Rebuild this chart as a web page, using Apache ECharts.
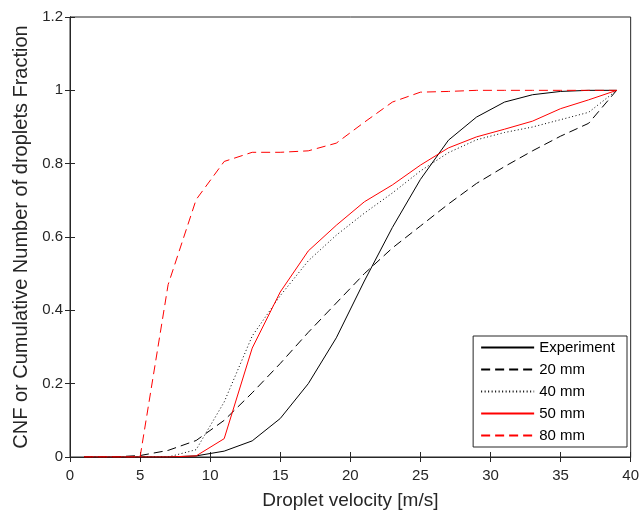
<!DOCTYPE html>
<html><head><meta charset="utf-8">
<script src="https://cdn.jsdelivr.net/npm/echarts@6/dist/echarts.min.js"></script>
<style>html,body{margin:0;padding:0;background:#fff}#c{width:642px;height:515px}</style>
</head><body><div id="c"></div>
<script>
const velocities = [1,3,5,7,9,11,13,15,17,19,21,23,25,27,29,31,33,35,37,39];
const experiment = [0,0,0,0,0.003,0.016,0.044,0.105,0.2,0.325,0.48,0.626,0.757,0.864,0.927,0.968,0.988,0.997,1,1];
const mm20 = [0,0,0.004,0.018,0.045,0.1,0.175,0.255,0.34,0.42,0.5,0.57,0.63,0.69,0.746,0.792,0.835,0.875,0.91,1];
const mm40 = [0,0,0,0,0.02,0.15,0.33,0.44,0.535,0.605,0.665,0.72,0.78,0.83,0.865,0.885,0.9,0.92,0.94,1];
const mm50 = [0,0,0,0,0.003,0.05,0.297,0.45,0.562,0.632,0.696,0.742,0.796,0.843,0.873,0.894,0.916,0.95,0.974,1];
const mm80 = [0,0,0,0.47,0.702,0.806,0.831,0.831,0.835,0.856,0.913,0.968,0.995,0.997,1,1,1,1,1,1];
const xTicks = [0,5,10,15,20,25,30,35,40];
const yTicks = [0,0.2,0.4,0.6,0.8,1,1.2];

const FONT = 'Liberation Sans, Arial, Helvetica, sans-serif';
const pairs = a => velocities.map((v,i)=>[v,a[i]]);
const mk = (name, arr, color, type) => ({
  name, type:'line', data: pairs(arr), symbol:'none', smooth:false,
  lineStyle:{color, width:1, type}, itemStyle:{color}, animation:false
});
const axisCol = '#262626';
const chart = echarts.init(document.getElementById('c'), null, {renderer:'canvas'});
chart.setOption({
  backgroundColor:'#fff',
  animation:false,
  grid:{left:70, right:9, top:17, bottom:53, show:true, borderColor:axisCol, borderWidth:1, containLabel:false},
  xAxis:[{
    type:'value', min:0, max:40, interval:5, position:'bottom',
    name:'Droplet velocity [m/s]', nameLocation:'middle', nameGap:34,
    nameTextStyle:{fontSize:19, color:axisCol, fontFamily:FONT},
    axisLine:{show:true, lineStyle:{color:axisCol}},
    axisTick:{show:true, inside:true, length:5, lineStyle:{color:axisCol}},
    axisLabel:{fontSize:15, color:axisCol, margin:11, fontFamily:FONT,
      formatter: v => xTicks.includes(v) ? String(v) : ''},
    splitLine:{show:false}
  },{
    type:'value', min:0, max:40, interval:5, position:'top',
    axisLine:{show:true, lineStyle:{color:axisCol}},
    axisTick:{show:true, inside:true, length:5, lineStyle:{color:axisCol}},
    axisLabel:{show:false}, splitLine:{show:false}
  }],
  yAxis:[{
    type:'value', min:0, max:1.2, interval:0.2, position:'left',
    name:'CNF or Cumulative Number of droplets Fraction', nameLocation:'middle', nameGap:39, nameRotate:90,
    nameTextStyle:{fontSize:20, color:axisCol, fontFamily:FONT},
    axisLine:{show:true, lineStyle:{color:axisCol}},
    axisTick:{show:true, inside:true, length:5, lineStyle:{color:axisCol}},
    axisLabel:{fontSize:15, color:axisCol, margin:7, fontFamily:FONT,
      formatter: v => { const t = yTicks.find(k=>Math.abs(k-v)<1e-9); return t===undefined?'':String(t); }},
    splitLine:{show:false}
  },{
    type:'value', min:0, max:1.2, interval:0.2, position:'right',
    axisLine:{show:true, lineStyle:{color:axisCol}},
    axisTick:{show:true, inside:true, length:5, lineStyle:{color:axisCol}},
    axisLabel:{show:false}, splitLine:{show:false}
  }],
  legend:{
    orient:'vertical', right:15, top:336,
    backgroundColor:'#fff', borderColor:axisCol, borderWidth:1,
    padding:[4,12,4,7], itemWidth:53, itemHeight:14, itemGap:7,
    itemStyle:{opacity:0},
    textStyle:{fontSize:15, color:'#000', fontFamily:FONT},
    data:['Experiment','20 mm','40 mm','50 mm','80 mm']
  },
  series:[
    mk('Experiment', experiment, '#000000', 'solid'),
    mk('20 mm', mm20, '#000000', [9,5]),
    mk('40 mm', mm40, '#000000', [1,2.5]),
    mk('50 mm', mm50, '#ff0000', 'solid'),
    mk('80 mm', mm80, '#ff0000', [9,5])
  ]
});
</script></body></html>
